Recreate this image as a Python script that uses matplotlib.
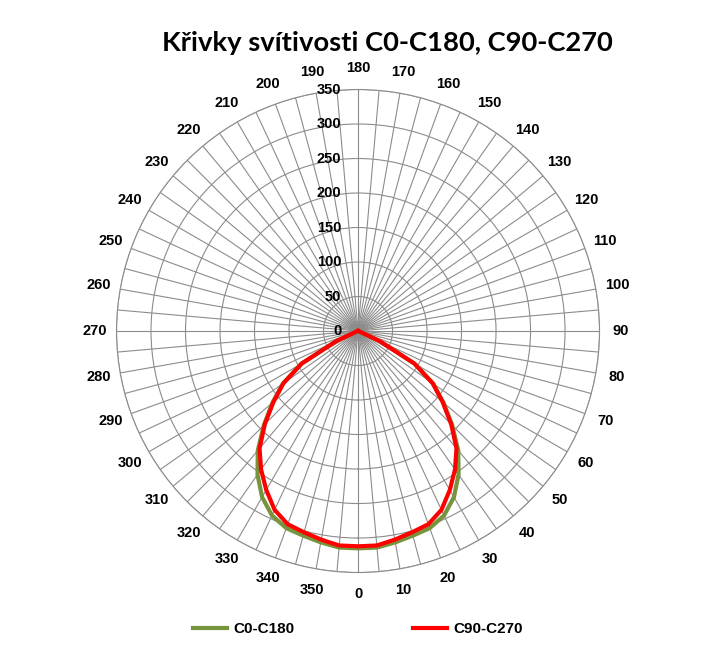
import matplotlib
matplotlib.use("Agg")
import matplotlib.pyplot as plt
import numpy as np

# gamma angles (deg) and luminous intensity, symmetric halves
gamma = [0, 5, 10, 15, 20, 25, 30, 35, 40, 45, 50, 55, 60, 65, 70, 75, 80, 85, 90]
c0_c180 = [315, 315, 311, 307, 304, 295, 278, 254, 226, 193, 162, 133, 95, 35, 3, 0, 0, 0, 0]
c90_c270 = [312, 312, 307, 302, 298, 286, 266, 245, 222, 191, 160, 132, 94, 35, 3, 0, 0, 0, 0]

r_ticks = [0, 50, 100, 150, 200, 250, 300, 350]
angle_ticks = list(range(0, 360, 5))

title = "Křivky svítivosti C0-C180, C90-C270"

plt.rcParams['font.family'] = ['Liberation Sans', 'DejaVu Sans']

fig = plt.figure(figsize=(7.07, 6.69), dpi=100)
ax = fig.add_axes([0.1648, 0.1442, 0.6832, 0.722], projection='polar')

ax.set_theta_zero_location('S')
ax.set_theta_direction(1)

def full_curve(vals):
    # left half (C180 / C270) mirrored from right half, closed through 0
    g = np.array(gamma, dtype=float)
    v = np.array(vals, dtype=float)
    th = np.concatenate([-g[::-1], g[1:]])
    rr = np.concatenate([v[::-1], v[1:]])
    return np.deg2rad(th), rr

th, rr = full_curve(c0_c180)
ax.plot(th, rr, color='#77933C', lw=3.0, label='C0-C180', zorder=3)
th, rr = full_curve(c90_c270)
ax.plot(th, rr, color='#FF0000', lw=3.0, label='C90-C270', zorder=4)

ax.set_ylim(0, 350)
ax.set_rgrids(r_ticks[1:])
ax.set_yticklabels([])
ax.set_thetagrids(angle_ticks, [str(a) if a % 10 == 0 else '' for a in angle_ticks],
                  fontsize=10.5, fontweight='bold')
ax.tick_params(axis='x', pad=5)
ax.grid(True, color='#8c8c8c', lw=0.8)
ax.spines['polar'].set_color('#8c8c8c')
ax.spines['polar'].set_linewidth(0.8)

for r in r_ticks:
    ax.annotate(str(r), xy=(np.pi, r), xytext=(-12, 0), textcoords='offset points',
                ha='right', va='center', fontsize=10.5, fontweight='bold')

fig.text(387 / 707, 1 - 43 / 669, title, ha='center', va='center',
         fontsize=19.7, fontweight='bold', family=['Lato', 'DejaVu Sans'])

fig.legend(loc='center', bbox_to_anchor=(358 / 707, 1 - 629 / 669), ncol=2,
           frameon=False, handlelength=2.2, handletextpad=0.4, columnspacing=7.8,
           prop={'size': 11, 'weight': 'bold'})

fig.savefig('out.png', dpi=100)
